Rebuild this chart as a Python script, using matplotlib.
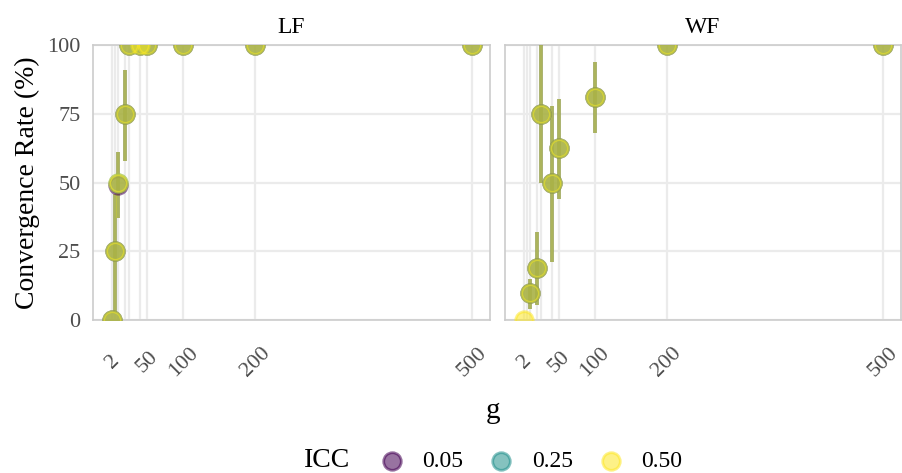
import matplotlib.pyplot as plt
import numpy as np

plt.rcParams['font.family'] = ['Liberation Serif', 'DejaVu Serif']

nan = np.nan
g_values = [2, 5, 10, 20, 25, 40, 50, 100, 200, 500]
g_labels = ['2', '', '', '', '', '', '50', '100', '200', '500']
icc_levels = ['0.05', '0.25', '0.50']
icc_colors = ['#440154', '#21908C', '#FDE725']

# convergence rate (%) per ICC level
lf_icc05 = [0, 25, 49, 75, 100, 100, 100, 100, 100, 100]
lf_icc25 = [0, 25, 50, 75, 100, 100, 100, 100, 100, 100]
lf_icc50 = [0, 25, 50, 75, 100, 100, 100, 100, 100, 100]
lf_lo = [nan, 3, 37, 58, nan, nan, nan, nan, nan, nan]
lf_hi = [nan, 46, 61, 91, nan, nan, nan, nan, nan, nan]

wf_icc05 = [nan, nan, 10, 19, 75, 50, 62.5, 81, 100, 100]
wf_icc25 = [nan, nan, 10, 19, 75, 50, 62.5, 81, 100, 100]
wf_icc50 = [0, nan, 10, 19, 75, 50, 62.5, 81, 100, 100]
wf_lo = [nan, nan, 4, 5.5, 50, 21, 44, 68, nan, nan]
wf_hi = [nan, nan, 15, 32, 100, 78, 80.5, 94, nan, nan]

panels = [
    ('LF', [lf_icc05, lf_icc25, lf_icc50], lf_lo, lf_hi),
    ('WF', [wf_icc05, wf_icc25, wf_icc50], wf_lo, wf_hi),
]

W, H = 903, 473
fig = plt.figure(figsize=(W / 100, H / 100), dpi=100)
ax_lf = fig.add_axes([93 / W, 153 / H, 397 / W, 275 / H])
ax_wf = fig.add_axes([505 / W, 153 / H, 396 / W, 275 / H])

handles = []
for ax, (name, series, lo, hi) in zip([ax_lf, ax_wf], panels):
    g = np.array(g_values)
    for rate, col, lab in zip(series, icc_colors, icc_levels):
        rate = np.array(rate, dtype=float)
        ok = ~np.isnan(rate) & ~np.isnan(np.array(lo, dtype=float))
        ax.vlines(g[ok], np.array(lo)[ok], np.array(hi)[ok], color=col,
                  alpha=0.5, lw=2.6, zorder=3)
        sc = ax.scatter(g, rate, s=160, color=col, alpha=0.55, lw=2,
                        edgecolor=col, zorder=4, label=lab)
        if ax is ax_lf:
            handles.append(sc)

    ax.set_xlim(-25, 525)
    ax.set_ylim(0, 100)
    ax.set_xticks(g_values)
    ax.set_xticklabels(g_labels, rotation=45, ha='center', va='center')
    ax.set_yticks([0, 25, 50, 75, 100])
    ax.grid(color='#EBEBEB', lw=1.6, zorder=0)
    ax.set_axisbelow(True)
    ax.tick_params(length=0, labelsize=16, labelcolor='#4D4D4D')
    ax.tick_params(axis='x', pad=30)
    ax.tick_params(axis='y', pad=9)
    for sp in ax.spines.values():
        sp.set_color('#CCCCCC')
        sp.set_linewidth(1.2)
    ax.set_title(name, fontsize=17, pad=9)

ax_wf.set_yticklabels([])
ax_lf.set_ylabel('Convergence Rate (%)', fontsize=20, labelpad=5)

fig.text(493 / W, 1 - 411 / H, 'g', fontsize=21, ha='center', va='center')

fig.text(327 / W, 1 - 460 / H, 'ICC', fontsize=20, ha='center', va='center')
fig.legend(handles=handles, labels=icc_levels, ncol=3, loc='center left',
           bbox_to_anchor=(368 / W, 1 - 461 / H), frameon=False, fontsize=17,
           scatterpoints=1, markerscale=1.0, handlelength=1.2,
           handletextpad=0.7, columnspacing=1.0, borderaxespad=0)

fig.savefig('out.png', dpi=100)
